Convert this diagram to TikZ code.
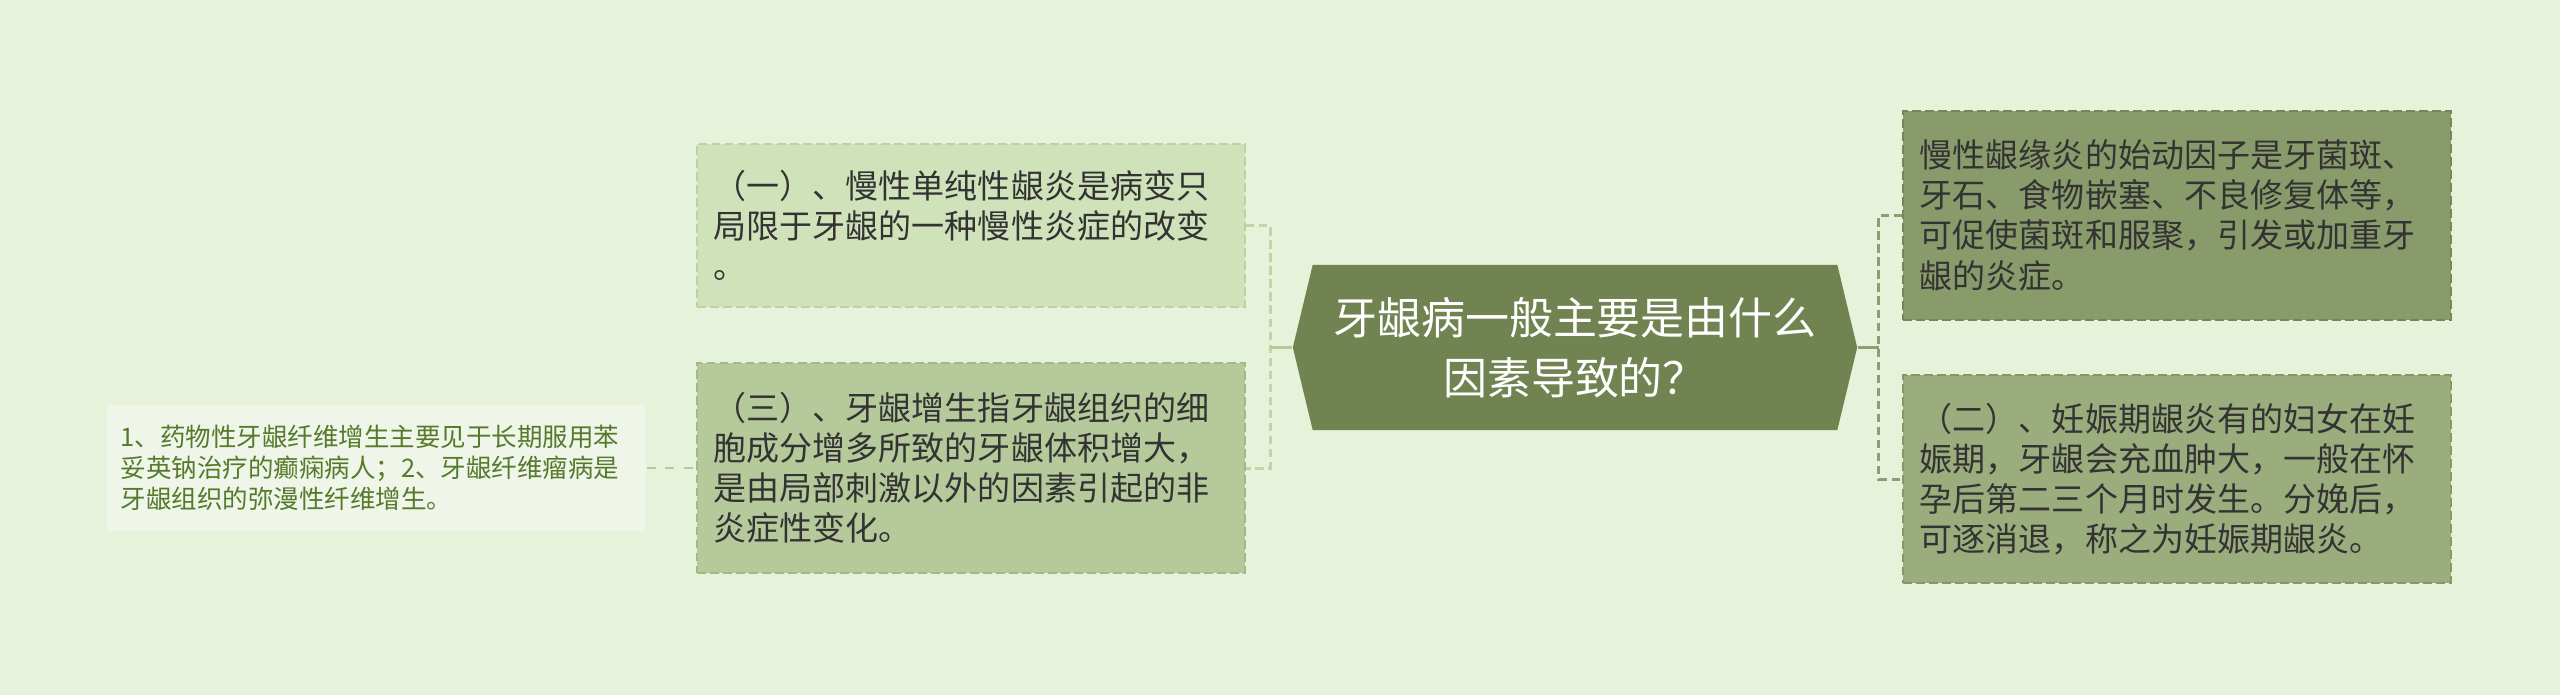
\documentclass[tikz,border=0pt]{standalone}
\usepackage{fontspec}
\setmainfont{Noto Sans CJK SC}
\usepackage{tikz}
\usetikzlibrary{positioning,shapes.symbols}
\definecolor{bgcol}{HTML}{E7F2DA}
\definecolor{hubcol}{HTML}{728352}
\definecolor{inkcol}{HTML}{333333}
\definecolor{leafink}{HTML}{557A2A}
\definecolor{leaffill}{HTML}{F0F5EA}
\definecolor{lightlink}{HTML}{C3D5A6}
\definecolor{darklink}{HTML}{8F9E70}
\definecolor{paleline}{HTML}{BDD1A2}
\definecolor{palefill}{HTML}{D0E2BA}
\definecolor{sageline}{HTML}{A3B888}
\definecolor{sagefill}{HTML}{B6C99B}
\definecolor{mossline}{HTML}{75865A}
\definecolor{mossfill}{HTML}{8A9B6B}
\definecolor{fernline}{HTML}{86976A}
\definecolor{fernfill}{HTML}{9BAC7D}
\definecolor{twigcol}{HTML}{B7C99E}
\tikzset{
  hubnode/.style={signal, signal to=west and east, signal pointer angle=153, fill=hubcol, text=white,
                  minimum width=5.64cm, minimum height=1.65cm, inner sep=0pt, align=center,
                  font=\fontsize{12.5pt}{17.07pt}\selectfont},
  card/.style={draw, dash pattern=on 2.5pt off 1.2pt, line width=0.55pt, text width=5.14cm,
               inner xsep=0.17cm, inner ysep=0pt, align=left, text=inkcol,
               font=\fontsize{9.39pt}{11.38pt}\selectfont},
  leafcard/.style={fill=leaffill, text width=5.1cm, inner xsep=0.15cm, inner ysep=0pt,
                   align=left, text=leafink, font=\fontsize{7.25pt}{8.8pt}\selectfont},
  paleleaf/.style={draw=paleline, fill=palefill},
  sageleaf/.style={draw=sageline, fill=sagefill},
  mossleaf/.style={draw=mossline, fill=mossfill},
  fernleaf/.style={draw=fernline, fill=fernfill},
  stem/.style={line width=1.1pt},
  bus/.style={line width=0.85pt, dash pattern=on 2.3pt off 1.4pt},
  twig/.style={line width=0.45pt, dash pattern=on 2.5pt off 2.8pt, draw=twigcol},
}
\begin{document}
\begin{tikzpicture}[x=0.01cm, y=-0.01cm]
  \fill[bgcol] (0,0) rectangle (2560,695);
  \useasboundingbox (0,0) rectangle (2560,695);

  \node[hubnode] (hub) at (1575,347.5) {牙龈病一般主要是由什么\\因素导致的？};
  \node[card, paleleaf, minimum height=1.63cm] (left1) [left=0.46cm of hub, yshift=1.22cm]
    {（一）、慢性单纯性龈炎是病变只\\局限于牙龈的一种慢性炎症的改变\\。};
  \node[card, sageleaf, minimum height=2.10cm] (left3) [left=0.46cm of hub, yshift=-1.205cm]
    {（三）、牙龈增生指牙龈组织的细\\胞成分增多所致的牙龈体积增大，\\是由局部刺激以外的因素引起的非\\炎症性变化。};
  \node[leafcard, minimum height=1.26cm] (leaf1) [left=0.49cm of left3]
    {1、药物性牙龈纤维增生主要见于长期服用苯\\妥英钠治疗的癫痫病人；2、牙龈纤维瘤病是\\牙龈组织的弥漫性纤维增生。};
  \node[card, mossleaf, minimum height=2.09cm] (right1) [right=0.44cm of hub, yshift=1.32cm]
    {慢性龈缘炎的始动因子是牙菌斑、\\牙石、食物嵌塞、不良修复体等，\\可促使菌斑和服聚，引发或加重牙\\龈的炎症。};
  \node[card, fernleaf, minimum height=2.08cm] (right2) [right=0.44cm of hub, yshift=-1.315cm]
    {（二）、妊娠期龈炎有的妇女在妊\\娠期，牙龈会充血肿大，一般在怀\\孕后第二三个月时发生。分娩后，\\可逐消退，称之为妊娠期龈炎。};

  \coordinate (jl) at ([xshift=-0.22cm]hub.west);
  \coordinate (jr) at ([xshift=0.21cm]hub.east);
  \draw[bus, lightlink] (left1.east) -| (jl) |- (left3.east);
  \draw[stem, sagefill] (hub.west) -- (jl);
  \draw[bus, darklink] (right1.west) -| (jr) |- (right2.west);
  \draw[stem, darklink] (hub.east) -- (jr);
  \draw[twig] (leaf1.east) -- (left3.west);

\end{tikzpicture}
\end{document}
